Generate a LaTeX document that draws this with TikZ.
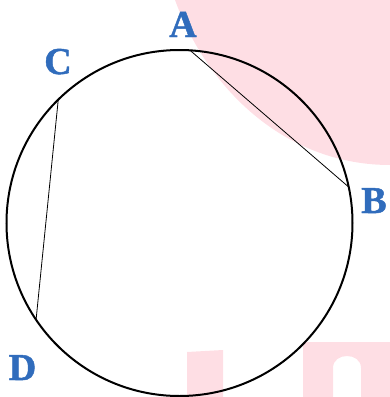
\documentclass[tikz,border=0pt]{standalone}
\usepackage{fontspec}
\setmainfont{Liberation Serif}
\newfontfamily\lblfont[FakeBold=1.2]{Liberation Serif Bold}
\usetikzlibrary{calc}
\definecolor{wmpink}{RGB}{254,222,228}
\definecolor{lblue}{RGB}{48,108,188}
\begin{document}
\begin{tikzpicture}[x=1pt,y=-1pt,
  lbl/.style={font=\lblfont\fontsize{38}{38}\selectfont, text=lblue, inner sep=0pt, anchor=base},
  chord/.style={line width=0.8pt, black}]
\useasboundingbox (0,0) rectangle (390,397);
% watermark shapes
\fill[wmpink] (175,0) .. controls (210,95) and (290,165) .. (390,165) -- (390,0) -- cycle;
\fill[wmpink] (187,352) -- (223,350) -- (223,397) -- (187,397) -- cycle;
\fill[wmpink] (303,342) -- (390,342) -- (390,397) -- (361,397) -- (361,368)
   .. controls (361,352) and (333,352) .. (333,368) -- (333,397) -- (303,397) -- cycle;
% circle
\node[circle, draw, line width=2pt, minimum size=346pt, inner sep=0pt] (O) at (179.5,223) {};
\coordinate (pA) at ($(O.center)+(86.5:173pt)$);
\coordinate (pB) at ($(O.center)+(12:173pt)$);
\coordinate (pC) at ($(O.center)+(134.5:173pt)$);
\coordinate (pD) at ($(O.center)+(214:173pt)$);
\draw[chord] (pA) -- (pB);
\draw[chord] (pC) -- (pD);
% labels
\node[lbl] (A) at (183,37) {A};
\node[lbl] (B) at (374,213) {B};
\node[lbl] (C) at (58,74) {C};
\node[lbl] (D) at (22.5,380) {D};
\end{tikzpicture}
\end{document}
